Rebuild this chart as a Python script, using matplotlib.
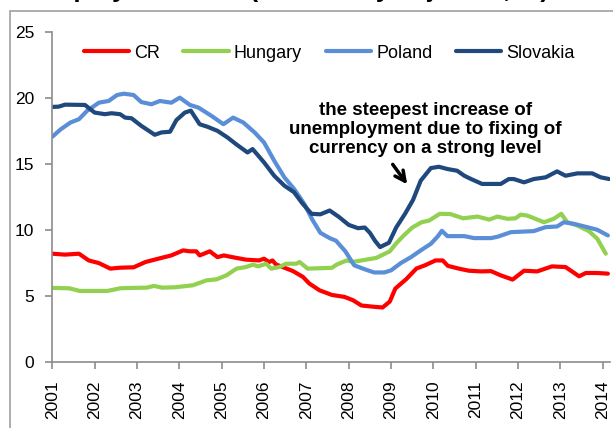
import matplotlib
matplotlib.use("Agg")
import matplotlib.pyplot as plt
from matplotlib.patches import Rectangle

plt.rcParams['font.family'] = ['Liberation Sans', 'DejaVu Sans']

# ---- data (decimal year, unemployment %) ----
t_cr = [2001.0, 2001.3, 2001.63, 2001.86, 2002.1, 2002.37, 2002.6, 2002.92, 2003.2, 2003.5,
        2003.81, 2004.09, 2004.25, 2004.4, 2004.48, 2004.72, 2004.9, 2005.05, 2005.25, 2005.57,
        2005.88, 2006.0, 2006.12, 2006.2, 2006.28, 2006.44, 2006.68, 2006.92, 2007.07, 2007.31,
        2007.6, 2007.9, 2008.1, 2008.3, 2008.6, 2008.8, 2008.97, 2009.1, 2009.36, 2009.6,
        2009.8, 2010.05, 2010.22, 2010.34, 2010.6, 2010.84, 2011.12, 2011.36, 2011.59, 2011.87,
        2012.14, 2012.45, 2012.8, 2013.12, 2013.44, 2013.6, 2013.87, 2014.12]
cr = [8.22, 8.15, 8.22, 7.71, 7.51, 7.09, 7.16, 7.19, 7.59, 7.84,
      8.09, 8.47, 8.4, 8.4, 8.09, 8.4, 7.96, 8.09, 7.96, 7.77,
      7.71, 7.84, 7.59, 7.71, 7.41, 7.21, 6.91, 6.46, 5.96, 5.45,
      5.1, 4.95, 4.7, 4.3, 4.2, 4.15, 4.6, 5.58, 6.3, 7.1,
      7.34, 7.71, 7.71, 7.3, 7.09, 6.93, 6.88, 6.9, 6.58, 6.26,
      6.93, 6.88, 7.26, 7.21, 6.51, 6.76, 6.76, 6.71]

t_hu = [2001.0, 2001.4, 2001.65, 2002.3, 2002.6, 2002.75, 2003.23, 2003.4, 2003.6, 2003.9,
        2004.1, 2004.32, 2004.64, 2004.88, 2005.11, 2005.35, 2005.57, 2005.74, 2005.86, 2006.05,
        2006.17, 2006.36, 2006.52, 2006.76, 2006.84, 2007.03, 2007.6, 2007.72, 2007.95, 2008.1,
        2008.3, 2008.65, 2008.97, 2009.12, 2009.3, 2009.5, 2009.72, 2009.9, 2010.15, 2010.4,
        2010.7, 2011.04, 2011.32, 2011.51, 2011.75, 2011.94, 2012.06, 2012.22, 2012.41, 2012.61,
        2012.84, 2013.02, 2013.16, 2013.4, 2013.67, 2013.87, 2014.07]
hungary = [5.63, 5.6, 5.4, 5.4, 5.6, 5.62, 5.65, 5.78, 5.65, 5.68,
           5.75, 5.83, 6.2, 6.28, 6.58, 7.09, 7.21, 7.39, 7.26, 7.46,
           7.09, 7.21, 7.46, 7.46, 7.59, 7.09, 7.15, 7.4, 7.71, 7.6,
           7.71, 7.9, 8.4, 9.0, 9.6, 10.2, 10.6, 10.73, 11.24, 11.22,
           10.9, 11.03, 10.8, 11.03, 10.86, 10.9, 11.18, 11.1, 10.86, 10.6,
           10.86, 11.24, 10.6, 10.35, 9.93, 9.35, 8.22]

t_pl = [2001.0, 2001.2, 2001.43, 2001.63, 2001.82, 2002.1, 2002.33, 2002.53, 2002.69, 2002.92,
        2003.1, 2003.34, 2003.54, 2003.81, 2004.01, 2004.25, 2004.45, 2004.76, 2005.04, 2005.27,
        2005.51, 2005.78, 2006.0, 2006.24, 2006.48, 2006.71, 2006.95, 2007.14, 2007.33, 2007.55,
        2007.7, 2007.92, 2008.13, 2008.37, 2008.6, 2008.84, 2009.0, 2009.23, 2009.47, 2009.7,
        2009.94, 2010.1, 2010.2, 2010.33, 2010.73, 2010.96, 2011.36, 2011.51, 2011.83, 2012.37,
        2012.65, 2012.92, 2013.08, 2013.32, 2013.63, 2013.87, 2014.12]
poland = [17.07, 17.64, 18.15, 18.4, 19.03, 19.65, 19.78, 20.23, 20.33, 20.23,
          19.7, 19.53, 19.78, 19.65, 20.03, 19.48, 19.28, 18.65, 18.02, 18.52,
          18.15, 17.39, 16.64, 15.26, 14.0, 13.12, 11.99, 10.8, 9.8, 9.4,
          9.2, 8.4, 7.34, 7.05, 6.8, 6.8, 6.96, 7.51, 7.96, 8.47,
          8.97, 9.52, 9.95, 9.55, 9.55, 9.4, 9.4, 9.5, 9.85, 9.93,
          10.23, 10.28, 10.6, 10.48, 10.23, 10.03, 9.6]

t_sk = [2001.0, 2001.15, 2001.3, 2001.77, 2002.0, 2002.24, 2002.4, 2002.6, 2002.72, 2002.87,
        2003.1, 2003.42, 2003.58, 2003.78, 2003.93, 2004.13, 2004.27, 2004.48, 2004.67, 2004.9,
        2005.14, 2005.34, 2005.61, 2005.73, 2006.0, 2006.24, 2006.48, 2006.71, 2006.9, 2007.12,
        2007.33, 2007.55, 2007.77, 2008.0, 2008.22, 2008.38, 2008.5, 2008.62, 2008.74, 2008.95,
        2009.12, 2009.33, 2009.52, 2009.7, 2009.94, 2010.13, 2010.33, 2010.56, 2010.73, 2010.89,
        2011.15, 2011.59, 2011.78, 2011.9, 2012.14, 2012.37, 2012.65, 2012.92, 2013.12, 2013.4,
        2013.75, 2013.95, 2014.15]
slovakia = [19.33, 19.35, 19.5, 19.48, 18.9, 18.78, 18.85, 18.78, 18.52, 18.47,
            17.9, 17.22, 17.4, 17.45, 18.33, 18.9, 19.05, 18.02, 17.82, 17.52,
            17.01, 16.51, 15.88, 16.14, 15.13, 14.12, 13.37, 12.87, 12.05, 11.24,
            11.2, 11.49, 11.0, 10.4, 10.15, 10.2, 9.8, 9.2, 8.72, 9.05,
            10.2, 11.24, 12.3, 13.75, 14.7, 14.8, 14.63, 14.5, 14.12, 13.87,
            13.5, 13.5, 13.87, 13.87, 13.62, 13.87, 14.0, 14.45, 14.12, 14.3,
            14.3, 14.0, 13.87]

years = list(range(2001, 2015))
yticks = [0, 5, 10, 15, 20, 25]
labels = ['CR', 'Hungary', 'Poland', 'Slovakia']
colors = ['#FF0000', '#92D050', '#5A8FD8', '#1F497D']
title = 'Unemployment rate (seasonally adjusted, %)'
note = 'the steepest increase of\nunemployment due to fixing of\ncurrency on a strong level'

W, H = 613, 428
fig = plt.figure(figsize=(W / 100, H / 100), dpi=100)

# outer chart frame (partially outside the image)
fig.patches.append(Rectangle((10 / W, -0.1), 1.2, 1.1 - 11.5 / H, transform=fig.transFigure,
                             fill=False, edgecolor='#a0a0a0', lw=1.2, zorder=0))

# title, cut off by the top edge as in the source image
fig.text(2 / W, 1 + 2.5 / H, title, ha='left', va='baseline', fontsize=18.5, fontweight='bold')

ax = fig.add_axes([52.3 / W, 1 - 362.3 / H, (610 - 52.3) / W, (362.3 - 32) / H])

series = [(t_cr, cr), (t_hu, hungary), (t_pl, poland), (t_sk, slovakia)]
for (tt, vv), lab, col in zip(series, labels, colors):
    ax.plot(tt, vv, color=col, lw=3, label=lab, solid_capstyle='round', solid_joinstyle='round')

ax.set_xlim(2001, 2014.17)
ax.set_ylim(0, 25)
ax.set_xticks(years)
ax.set_xticklabels([str(y) for y in years], rotation=90, fontsize=12.5)
ax.set_yticks(yticks)
ax.set_yticklabels([str(v) for v in yticks], fontsize=12.5)
for s in ['top', 'right']:
    ax.spines[s].set_visible(False)
for s in ['left', 'bottom']:
    ax.spines[s].set_color('#8c8c8c')
    ax.spines[s].set_linewidth(1.2)
ax.tick_params(axis='both', colors='#8c8c8c', labelcolor='black', length=5, width=1.2)
ax.tick_params(axis='y', pad=8)
ax.tick_params(axis='x', pad=8)

leg = ax.legend(ncol=4, loc='upper left', bbox_to_anchor=(0.056, 0.962), frameon=False,
                fontsize=13, handlelength=2.5, handletextpad=0.3, columnspacing=1.3,
                borderaxespad=0, borderpad=0)

ax.text(2009.81, 17.6, note, ha='center', va='center', fontsize=13.5, fontweight='bold',
        linespacing=1.15)
ax.annotate('', xy=(2009.42, 13.3), xytext=(2009.0, 15.15),
            arrowprops=dict(arrowstyle='->', lw=2.5, color='black', mutation_scale=18))

fig.savefig('out.png', dpi=100)
